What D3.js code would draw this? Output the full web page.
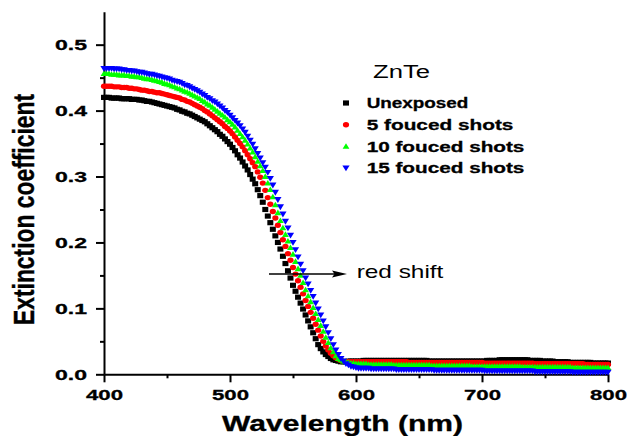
<!DOCTYPE html>
<html>
<head>
<meta charset="utf-8">
<script src="https://cdn.jsdelivr.net/npm/d3@7"></script>
<style>
  html, body { margin: 0; padding: 0; background: #ffffff; }
  svg { display: block; font-family: "Liberation Sans", Arial, Helvetica, sans-serif; }
</style>
</head>
<body>
<svg id="chart" width="627" height="436"></svg>
<script>
// Sampling grid of the spectra (nm)
const wavelengths = d3.range(400, 801, 2);

// Extinction coefficient of ZnTe films, one value per wavelength step
const unexposed = [
  .420,.420,.420,.419,.419,.419,.419,.418,.418,.418,
  .418,.417,.417,.417,.416,.416,.415,.414,.414,.413,
  .412,.411,.410,.409,.408,.407,.406,.405,.404,.402,
  .401,.399,.398,.396,.395,.393,.391,.389,.387,.385,
  .383,.380,.377,.374,.371,.368,.364,.361,.357,.353,
  .349,.344,.339,.333,.328,.322,.316,.310,.303,.296,
  .289,.280,.271,.261,.250,.240,.230,.220,.210,.200,
  .190,.179,.168,.157,.146,.135,.126,.117,.108,.099,
  .090,.081,.072,.063,.054,.045,.039,.034,.030,.027,
  .024,.022,.021,.020,.019,.019,.019,.020,.020,.020,
  .020,.020,.020,.021,.021,.021,.021,.021,.021,.021,
  .021,.021,.021,.021,.021,.021,.021,.021,.021,.021,
  .021,.021,.021,.021,.021,.021,.021,.021,.021,.020,
  .020,.020,.020,.020,.020,.020,.020,.020,.020,.020,
  .020,.020,.020,.020,.020,.020,.020,.020,.020,.020,
  .020,.020,.021,.021,.021,.021,.021,.022,.022,.022,
  .022,.022,.022,.022,.022,.022,.022,.022,.022,.021,
  .021,.021,.021,.021,.020,.020,.020,.020,.020,.019,
  .019,.019,.019,.019,.019,.018,.018,.018,.018,.018,
  .018,.018,.018,.018,.017,.017,.017,.017,.017,.017,
  .017
];
const shots5 = [
  .437,.437,.437,.437,.436,.436,.436,.435,.435,.435,
  .434,.434,.433,.433,.432,.431,.431,.430,.429,.429,
  .428,.427,.427,.426,.425,.424,.423,.422,.421,.420,
  .419,.417,.416,.414,.413,.411,.409,.407,.405,.403,
  .400,.398,.395,.392,.389,.386,.383,.380,.376,.373,
  .369,.365,.360,.355,.350,.345,.339,.333,.327,.321,
  .315,.307,.299,.290,.279,.268,.258,.247,.237,.226,
  .215,.204,.194,.183,.173,.162,.152,.142,.132,.122,
  .112,.103,.094,.085,.076,.067,.058,.050,.043,.037,
  .032,.028,.025,.023,.021,.020,.019,.019,.019,.019,
  .019,.019,.019,.019,.019,.019,.019,.019,.019,.019,
  .019,.019,.019,.019,.019,.019,.019,.019,.019,.019,
  .019,.018,.018,.018,.018,.018,.018,.018,.018,.018,
  .018,.018,.018,.018,.018,.018,.018,.018,.018,.018,
  .018,.018,.018,.018,.018,.018,.018,.018,.018,.018,
  .018,.017,.017,.017,.017,.017,.017,.017,.017,.017,
  .017,.017,.017,.017,.017,.017,.017,.017,.017,.017,
  .017,.016,.016,.016,.016,.016,.016,.016,.016,.016,
  .016,.016,.016,.016,.016,.016,.016,.016,.016,.016,
  .016,.015,.015,.015,.015,.015,.015,.015,.015,.015,
  .015
];
const shots10 = [
  .456,.456,.456,.455,.455,.455,.454,.454,.454,.453,
  .453,.452,.452,.451,.451,.450,.449,.448,.448,.447,
  .446,.445,.444,.443,.441,.440,.439,.437,.436,.434,
  .433,.431,.429,.428,.426,.424,.422,.420,.418,.415,
  .413,.410,.408,.405,.402,.399,.396,.393,.390,.386,
  .383,.379,.375,.370,.365,.360,.355,.349,.343,.337,
  .330,.323,.316,.309,.300,.290,.280,.269,.257,.245,
  .233,.222,.212,.202,.192,.182,.171,.160,.150,.139,
  .128,.119,.110,.101,.092,.083,.074,.065,.056,.048,
  .040,.034,.028,.024,.022,.020,.019,.018,.017,.017,
  .016,.016,.016,.016,.016,.015,.015,.015,.015,.015,
  .015,.015,.015,.015,.015,.014,.014,.014,.014,.014,
  .014,.014,.014,.014,.014,.014,.014,.014,.014,.014,
  .013,.013,.013,.013,.013,.013,.013,.013,.013,.013,
  .013,.013,.013,.013,.013,.013,.012,.012,.012,.012,
  .012,.012,.012,.012,.012,.012,.012,.012,.012,.012,
  .012,.012,.012,.012,.012,.012,.011,.011,.011,.011,
  .011,.011,.011,.011,.011,.011,.011,.011,.011,.011,
  .011,.011,.011,.011,.011,.011,.010,.010,.010,.010,
  .010,.010,.010,.010,.010,.010,.010,.010,.010,.010,
  .010
];
const shots15 = [
  .464,.464,.464,.464,.463,.463,.463,.462,.462,.461,
  .461,.460,.460,.459,.458,.458,.457,.456,.455,.455,
  .454,.453,.452,.451,.450,.449,.448,.446,.445,.444,
  .443,.441,.439,.438,.436,.434,.432,.430,.428,.425,
  .423,.420,.418,.415,.413,.410,.407,.404,.400,.397,
  .393,.389,.385,.381,.377,.372,.367,.361,.355,.349,
  .342,.335,.328,.321,.314,.306,.297,.287,.276,.265,
  .254,.243,.232,.222,.211,.200,.189,.178,.167,.157,
  .146,.137,.127,.118,.108,.099,.090,.081,.072,.063,
  .054,.045,.037,.030,.024,.020,.016,.014,.012,.011,
  .010,.009,.009,.009,.009,.009,.008,.008,.008,.008,
  .008,.008,.008,.008,.008,.008,.007,.007,.007,.007,
  .007,.007,.007,.007,.007,.007,.007,.007,.007,.007,
  .007,.006,.006,.006,.006,.006,.006,.006,.006,.006,
  .006,.006,.006,.006,.006,.006,.006,.006,.006,.006,
  .006,.005,.005,.005,.005,.005,.005,.005,.005,.005,
  .005,.005,.005,.005,.005,.005,.005,.005,.005,.005,
  .005,.004,.004,.004,.004,.004,.004,.004,.004,.004,
  .004,.004,.004,.004,.004,.004,.003,.003,.003,.003,
  .003,.003,.003,.003,.003,.003,.003,.003,.003,.003,
  .003
];

const seriesNames = ["Unexposed", "5 fouced shots", "10 fouced shots", "15 fouced shots"];
const seriesColors = ["#000000", "#ff0000", "#00ff00", "#0000ff"];
const seriesValues = [unexposed, shots5, shots10, shots15];

const xTicks = [400, 500, 600, 700, 800];
const xMinorTicks = [450, 550, 650, 750];
const yTicks = [0, 0.1, 0.2, 0.3, 0.4, 0.5];
const yMinorTicks = [0.05, 0.15, 0.25, 0.35, 0.45];

const svg = d3.select("#chart");

const x = d3.scaleLinear().domain([400, 800]).range([104, 608]);
const y = d3.scaleLinear().domain([0, 0.55]).range([374.3, 11.7]);

// Marker shapes: square, circle, up-triangle, down-triangle
const markerPaths = [
  "M-3,-2.6H3V2.6H-3Z",
  "M-3.1,0A3.1,2.7 0 1,0 3.1,0A3.1,2.7 0 1,0 -3.1,0Z",
  "M0,-3.2L3.4,2.4L-3.4,2.4Z",
  "M0,3.3L3.6,-2.5L-3.6,-2.5Z"
];

// ---- axes ----
function styleAxis(g) {
  g.select(".domain").attr("stroke", "#000").attr("stroke-width", 2);
  g.selectAll(".tick line").attr("stroke", "#000").attr("stroke-width", 2);
}

const gx = svg.append("g")
  .attr("transform", `translate(0,${y(0)})`)
  .call(d3.axisBottom(x).tickValues(xTicks).tickSize(8).tickPadding(7)
    .tickSizeOuter(0).tickFormat(d3.format("d")));
styleAxis(gx);
gx.selectAll(".tick text")
  .attr("font-size", 15).attr("font-weight", "bold").attr("fill", "#000")
  .attr("font-family", '"Liberation Sans", Arial, sans-serif')
  .attr("stroke", "#000").attr("stroke-width", 0.3)
  .attr("textLength", 37).attr("lengthAdjust", "spacingAndGlyphs");

const gxm = svg.append("g")
  .attr("transform", `translate(0,${y(0)})`)
  .call(d3.axisBottom(x).tickValues(xMinorTicks).tickSize(4).tickFormat(""));
gxm.select(".domain").remove();
gxm.selectAll(".tick line").attr("stroke", "#000").attr("stroke-width", 2);

const gy = svg.append("g")
  .attr("transform", `translate(${x(400)},0)`)
  .call(d3.axisLeft(y).tickValues(yTicks).tickSize(8).tickPadding(9)
    .tickSizeOuter(0).tickFormat(d3.format(".1f")));
styleAxis(gy);
gy.selectAll(".tick text")
  .attr("font-size", 15).attr("font-weight", "bold").attr("fill", "#000")
  .attr("font-family", '"Liberation Sans", Arial, sans-serif')
  .attr("stroke", "#000").attr("stroke-width", 0.3)
  .attr("dy", "0.35em")
  .attr("textLength", 32).attr("lengthAdjust", "spacingAndGlyphs");

const gym = svg.append("g")
  .attr("transform", `translate(${x(400)},0)`)
  .call(d3.axisLeft(y).tickValues(yMinorTicks).tickSize(4).tickFormat(""));
gym.select(".domain").remove();
gym.selectAll(".tick line").attr("stroke", "#000").attr("stroke-width", 2);

// ---- axis titles ----
svg.append("text")
  .attr("x", 222).attr("y", 431)
  .attr("font-size", 22).attr("font-weight", "bold")
  .attr("stroke", "#000").attr("stroke-width", 0.3)
  .attr("textLength", 241).attr("lengthAdjust", "spacingAndGlyphs")
  .text("Wavelength (nm)");

svg.append("text")
  .attr("transform", "translate(34,209.5) scale(1.36,1) rotate(-90)")
  .attr("text-anchor", "middle")
  .attr("font-size", 22).attr("font-weight", "bold")
  .attr("stroke", "#000").attr("stroke-width", 0.3)
  .attr("textLength", 231).attr("lengthAdjust", "spacingAndGlyphs")
  .text("Extinction coefficient");

// ---- data markers ----
seriesValues.forEach((vals, si) => {
  svg.append("g")
    .attr("fill", seriesColors[si])
    .selectAll("path")
    .data(wavelengths.map((w, i) => [w, vals[i]]))
    .join("path")
    .attr("d", markerPaths[si])
    .attr("transform", d => `translate(${x(d[0])},${y(d[1])})`);
});

// ---- legend ----
svg.append("text")
  .attr("x", 373).attr("y", 78)
  .attr("font-size", 18)
  .attr("textLength", 57).attr("lengthAdjust", "spacingAndGlyphs")
  .text("ZnTe");

const legendBaselines = [108.3, 130, 151.7, 173.3];
const legendWidths = [101.7, 146.7, 157.7, 157.7];
seriesNames.forEach((name, i) => {
  svg.append("path")
    .attr("d", markerPaths[i])
    .attr("fill", seriesColors[i])
    .attr("transform", `translate(346,${legendBaselines[i] - 5.3})`);
  svg.append("text")
    .attr("x", 366.7).attr("y", legendBaselines[i])
    .attr("font-size", 15).attr("font-weight", "bold")
    .attr("stroke", "#000").attr("stroke-width", 0.3)
    .attr("textLength", legendWidths[i]).attr("lengthAdjust", "spacingAndGlyphs")
    .text(name);
});

// ---- red shift annotation ----
svg.append("line")
  .attr("x1", 269).attr("y1", 274).attr("x2", 336).attr("y2", 274)
  .attr("stroke", "#000").attr("stroke-width", 1.6);
svg.append("path")
  .attr("d", "M347,274L332,270.5L334.5,274L332,277.5Z")
  .attr("fill", "#000");
svg.append("text")
  .attr("x", 356.7).attr("y", 277.7)
  .attr("font-size", 18.5)
  .attr("textLength", 86.7).attr("lengthAdjust", "spacingAndGlyphs")
  .text("red shift");
</script>
</body>
</html>
